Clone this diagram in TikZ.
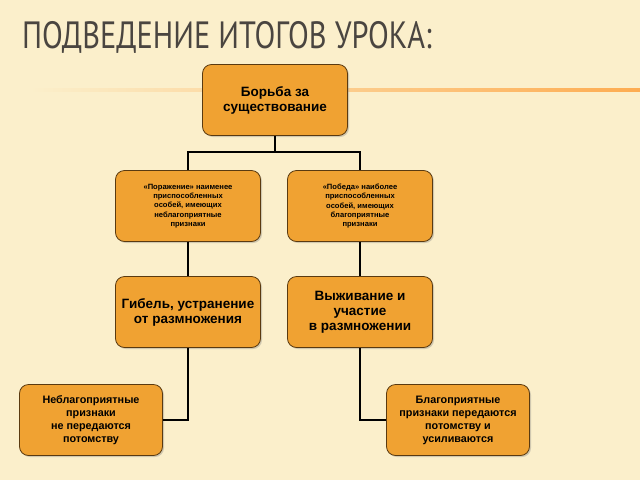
\documentclass[tikz,border=0pt]{standalone}
\usepackage{fontspec}
\setmainfont{Liberation Sans}
\newfontfamily\titlefont{PT Sans}
\usetikzlibrary{shadows}
\definecolor{bgcream}{HTML}{FBEFCB}
\definecolor{boxfill}{HTML}{F0A232}
\definecolor{boxline}{HTML}{5A3A10}
\definecolor{titlegrey}{HTML}{4A4540}
\tikzset{
  card/.style={draw=boxline, fill=boxfill, rounded corners=9pt, line width=0.8pt,
    minimum width=145pt, minimum height=71pt, align=center, font=\bfseries,
    drop shadow={shadow xshift=1.5pt, shadow yshift=-1.5pt, opacity=0.35}},
  small/.style={font=\bfseries\fontsize{7.6}{9.2}\selectfont},
  big/.style={font=\bfseries\fontsize{13.5}{15}\selectfont},
  low/.style={font=\bfseries\fontsize{10.8}{13}\selectfont, minimum width=143pt},
  link/.style={line width=1.2pt}
}
\begin{document}
\begin{tikzpicture}[x=1pt, y=-1pt]
  \fill[bgcream] (0,0) rectangle (640,480);
  \useasboundingbox (0,0) rectangle (640,480);
  \shade[left color=bgcream, right color=orange!60!bgcream] (30,88) rectangle (640,91);
  \node[anchor=base west, text=titlegrey, inner sep=0pt, xscale=0.8] (title) at (22,48)
    {\titlefont\fontsize{38}{40}\selectfont ПОДВЕДЕНИЕ ИТОГОВ УРОКА:};

  \node[card, big] (fight) at (275,100) {Борьба за\\существование};
  \node[card, small] (defeat) at (188,206) {«Поражение» наименее\\приспособленных\\особей, имеющих\\неблагоприятные\\признаки};
  \node[card, small] (victory) at (360,206) {«Победа» наиболее\\приспособленных\\особей, имеющих\\благоприятные\\признаки};
  \node[card, big] (death) at (188,312) {Гибель, устранение\\от размножения};
  \node[card, big] (survive) at (360,312) {Выживание и\\участие\\в размножении};
  \node[card, low] (badtr) at (91,420) {Неблагоприятные\\признаки\\не передаются\\потомству};
  \node[card, low] (goodtr) at (458,420) {Благоприятные\\признаки передаются\\потомству и\\усиливаются};

  \coordinate (fork) at (275,152);
  \draw[link] (fight) -- (fork);
  \draw[link] (defeat.north) |- (fork) -| (victory.north);
  \draw[link] (defeat) -- (death);
  \draw[link] (victory) -- (survive);
  \draw[link] (death.south) |- (badtr.east);
  \draw[link] (survive.south) |- (goodtr.west);
\end{tikzpicture}
\end{document}
